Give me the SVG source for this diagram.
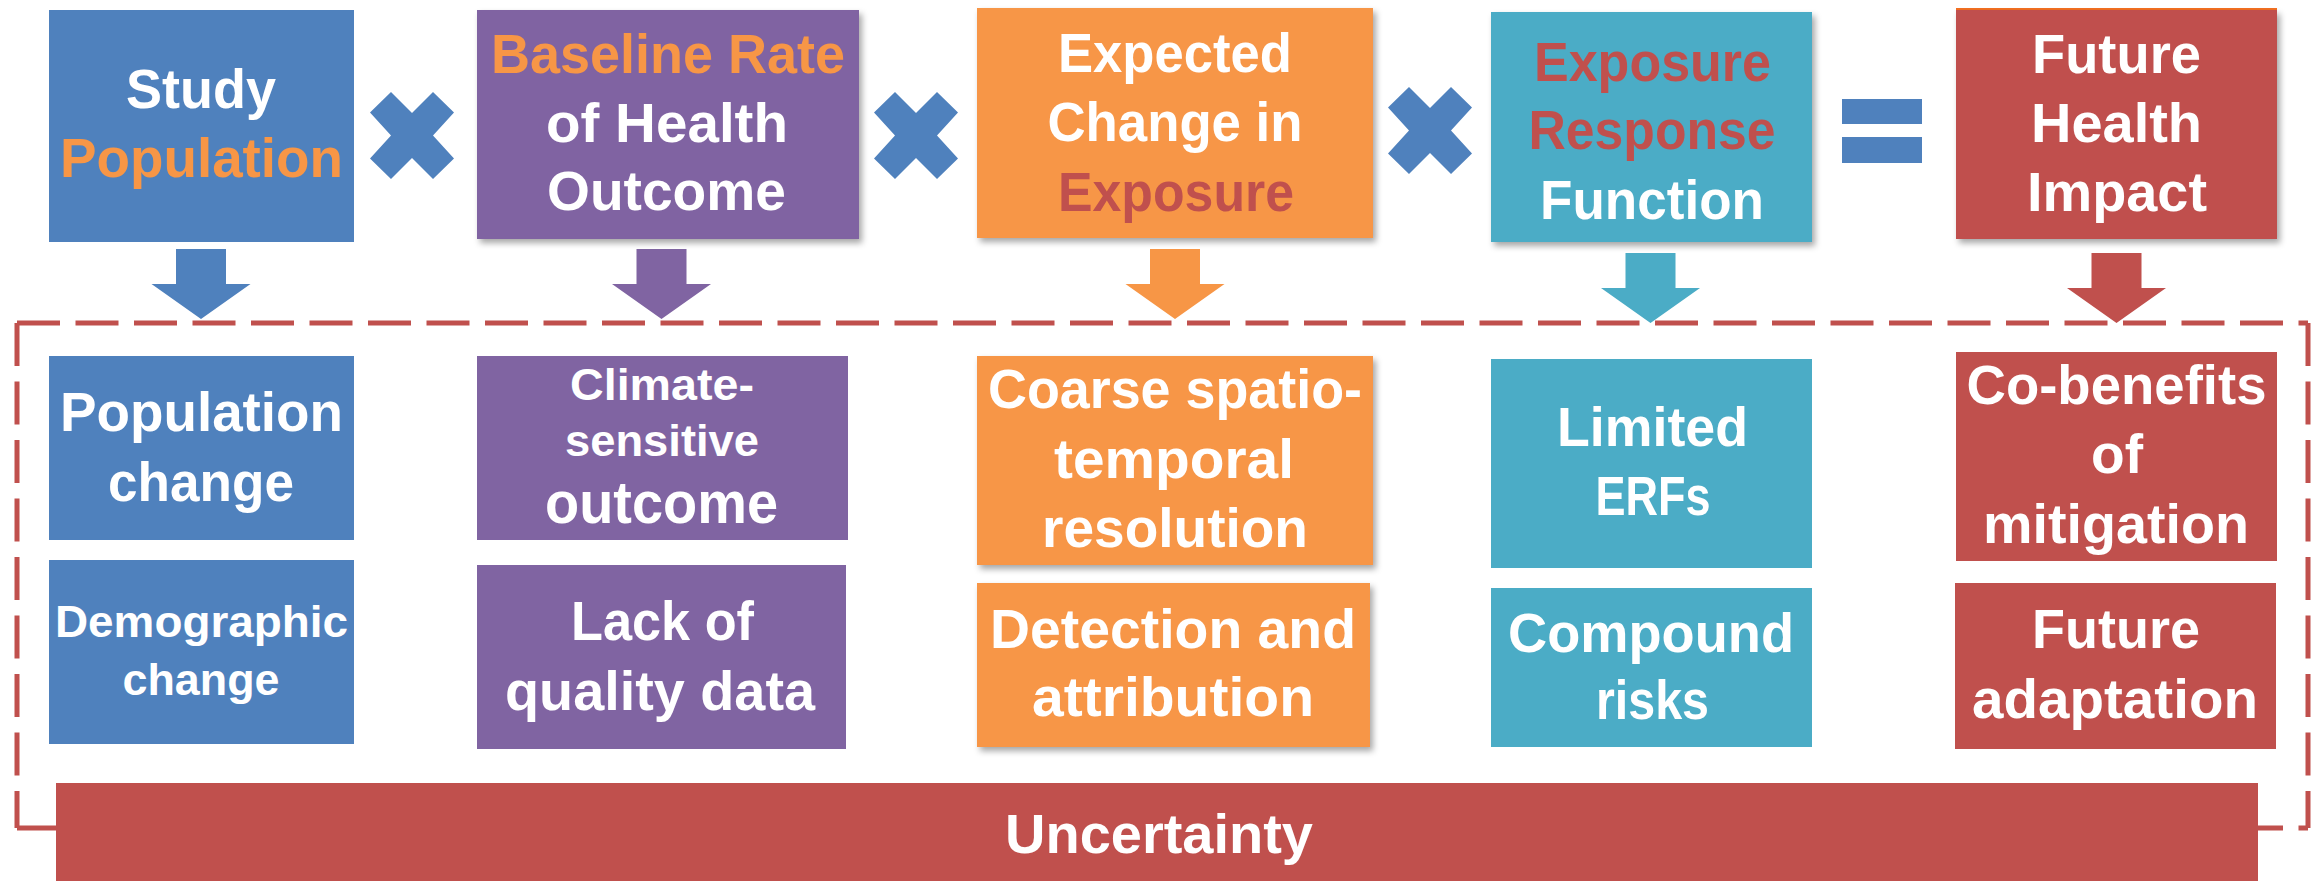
<svg xmlns="http://www.w3.org/2000/svg" width="2313" height="884" viewBox="0 0 2313 884">
<defs>
<style>
text{font-family:"Liberation Sans",Arial,sans-serif;font-weight:bold;fill:#fff;text-anchor:middle}
.t{font-size:56px}
.s{font-size:45px}
.o{fill:#F79646}
.r{fill:#C0504D}
.blue{fill:#4F81BD}
.purple{fill:#8064A2}
.orange{fill:#F79646}
.teal{fill:#4BACC6}
.red{fill:#C0504D}
.dash{fill:none;stroke:#C0504D;stroke-width:5;stroke-dasharray:43 15.5}
</style>
<filter id="sh" x="-5%" y="-5%" width="115%" height="115%">
<feDropShadow dx="3" dy="4" stdDeviation="3" flood-color="#000" flood-opacity="0.35"/>
</filter>
<path id="x" d="M-21,-43.5 L0,-22.5 L21,-43.5 L42,-23 L21,0 L42,23 L21,43.5 L0,22.5 L-21,43.5 L-42,23 L-21,0 L-42,-23 Z"/>
<path id="arr" d="M-25,0 H25 V35 H49.5 L0,70 L-49.5,35 H-25 Z"/>
</defs>
<rect width="2313" height="884" fill="#fff"/>

<g id="frame">
<path class="dash" d="M17,323 H2308"/>
<path class="dash" d="M17,323 V828"/>
<path class="dash" d="M2308,323 V828"/>
<path class="dash" d="M17,828 H2308"/>
</g>

<g id="connectors">
<use href="#arr" x="201" y="249" class="blue"/>
<use href="#arr" x="661.5" y="249" class="purple"/>
<use href="#arr" x="1175" y="249" class="orange"/>
<use href="#arr" x="1650.5" y="253" class="teal"/>
<use href="#arr" x="2116.5" y="253" class="red"/>
</g>

<g id="operators">
<use href="#x" x="412" y="135.5" class="blue"/>
<use href="#x" x="916" y="135.5" class="blue"/>
<use href="#x" x="1430" y="130.5" class="blue"/>
<rect x="1842" y="99" width="80" height="25" class="blue"/>
<rect x="1842" y="137" width="80" height="26" class="blue"/>
</g>

<g id="study-population">
<rect x="49" y="10" width="305" height="232" class="blue"/>
<text class="t" x="201" y="108" textLength="150" lengthAdjust="spacingAndGlyphs">Study</text>
<text class="t o" x="201.5" y="177" textLength="283" lengthAdjust="spacingAndGlyphs">Population</text>
</g>

<g id="baseline-rate">
<rect x="477" y="10" width="382" height="229" class="purple" filter="url(#sh)"/>
<text class="t o" x="668" y="73" textLength="354" lengthAdjust="spacingAndGlyphs">Baseline Rate</text>
<text class="t" x="667" y="142" textLength="242" lengthAdjust="spacingAndGlyphs">of Health</text>
<text class="t" x="666.5" y="210" textLength="239" lengthAdjust="spacingAndGlyphs">Outcome</text>
</g>

<g id="expected-change">
<rect x="977" y="8" width="396" height="230" class="orange" filter="url(#sh)"/>
<text class="t" x="1175" y="72" textLength="234" lengthAdjust="spacingAndGlyphs">Expected</text>
<text class="t" x="1175" y="141" textLength="255" lengthAdjust="spacingAndGlyphs">Change in</text>
<text class="t r" x="1176" y="211" textLength="236" lengthAdjust="spacingAndGlyphs">Exposure</text>
</g>

<g id="exposure-response">
<rect x="1491" y="12" width="321" height="230" class="teal" filter="url(#sh)"/>
<text class="t r" x="1652.5" y="81" textLength="237" lengthAdjust="spacingAndGlyphs">Exposure</text>
<text class="t r" x="1652" y="149" textLength="247" lengthAdjust="spacingAndGlyphs">Response</text>
<text class="t" x="1652" y="219" textLength="224" lengthAdjust="spacingAndGlyphs">Function</text>
</g>

<g id="future-health-impact">
<rect x="1956" y="8" width="321" height="2" fill="#F36F21"/>
<rect x="1956" y="10" width="321" height="229" class="red" filter="url(#sh)"/>
<text class="t" x="2116.5" y="73" textLength="169" lengthAdjust="spacingAndGlyphs">Future</text>
<text class="t" x="2116.5" y="142" textLength="171" lengthAdjust="spacingAndGlyphs">Health</text>
<text class="t" x="2117" y="211" textLength="180" lengthAdjust="spacingAndGlyphs">Impact</text>
</g>

<g id="population-change">
<rect x="49" y="356" width="305" height="184" class="blue"/>
<text class="t" x="201.5" y="431" textLength="283" lengthAdjust="spacingAndGlyphs">Population</text>
<text class="t" x="201" y="501" textLength="186" lengthAdjust="spacingAndGlyphs">change</text>
</g>

<g id="demographic-change">
<rect x="49" y="560" width="305" height="184" class="blue"/>
<text class="s" x="201.5" y="637" textLength="293" lengthAdjust="spacingAndGlyphs">Demographic</text>
<text class="s" x="201" y="695" textLength="157" lengthAdjust="spacingAndGlyphs">change</text>
</g>

<g id="climate-sensitive">
<rect x="477" y="356" width="371" height="184" class="purple"/>
<text class="s" x="662" y="400" textLength="184" lengthAdjust="spacingAndGlyphs">Climate-</text>
<text class="s" x="662" y="456" textLength="194" lengthAdjust="spacingAndGlyphs">sensitive</text>
<text style="font-size:60px" x="661.5" y="523" textLength="233" lengthAdjust="spacingAndGlyphs">outcome</text>
</g>

<g id="lack-of-data">
<rect x="477" y="565" width="369" height="184" class="purple"/>
<text class="t" x="662.5" y="640" textLength="183" lengthAdjust="spacingAndGlyphs">Lack of</text>
<text class="t" x="660" y="710" textLength="310" lengthAdjust="spacingAndGlyphs">quality data</text>
</g>

<g id="coarse-resolution">
<rect x="977" y="356" width="396" height="209" class="orange" filter="url(#sh)"/>
<text class="t" x="1175" y="408" textLength="374" lengthAdjust="spacingAndGlyphs">Coarse spatio-</text>
<text class="t" x="1174" y="478" textLength="240" lengthAdjust="spacingAndGlyphs">temporal</text>
<text class="t" x="1175" y="547" textLength="266" lengthAdjust="spacingAndGlyphs">resolution</text>
</g>

<g id="detection-attribution">
<rect x="977" y="583" width="393" height="164" class="orange" filter="url(#sh)"/>
<text class="t" x="1173" y="648" textLength="366" lengthAdjust="spacingAndGlyphs">Detection and</text>
<text class="t" x="1173" y="716" textLength="282" lengthAdjust="spacingAndGlyphs">attribution</text>
</g>

<g id="limited-erfs">
<rect x="1491" y="359" width="321" height="209" class="teal"/>
<text class="t" x="1652.5" y="446" textLength="191" lengthAdjust="spacingAndGlyphs">Limited</text>
<text class="t" x="1653" y="515" textLength="115" lengthAdjust="spacingAndGlyphs">ERFs</text>
</g>

<g id="compound-risks">
<rect x="1491" y="588" width="321" height="159" class="teal"/>
<text class="t" x="1651" y="652" textLength="286" lengthAdjust="spacingAndGlyphs">Compound</text>
<text class="t" x="1652.5" y="719" textLength="113" lengthAdjust="spacingAndGlyphs">risks</text>
</g>

<g id="co-benefits">
<rect x="1956" y="352" width="321" height="209" class="red"/>
<text class="t" x="2116.5" y="404" textLength="300" lengthAdjust="spacingAndGlyphs">Co-benefits</text>
<text class="t" x="2117" y="473" textLength="52" lengthAdjust="spacingAndGlyphs">of</text>
<text class="t" x="2116" y="543" textLength="266" lengthAdjust="spacingAndGlyphs">mitigation</text>
</g>

<g id="future-adaptation">
<rect x="1955" y="583" width="321" height="166" class="red"/>
<text class="t" x="2116" y="648" textLength="168" lengthAdjust="spacingAndGlyphs">Future</text>
<text class="t" x="2115" y="718" textLength="286" lengthAdjust="spacingAndGlyphs">adaptation</text>
</g>

<g id="uncertainty">
<rect x="56" y="783" width="2202" height="98" class="red"/>
<text class="t" x="1159" y="853" textLength="308" lengthAdjust="spacingAndGlyphs">Uncertainty</text>
</g>
</svg>
